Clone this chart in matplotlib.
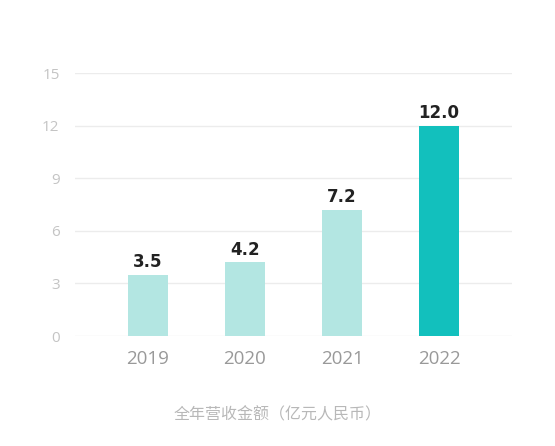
import matplotlib.pyplot as plt

plt.rcParams['font.family'] = ['Noto Sans CJK SC', 'DejaVu Sans']

years = ['2019', '2020', '2021', '2022']
revenue = [3.5, 4.2, 7.2, 12.0]
labels = ['3.5', '4.2', '7.2', '12.0']
yticks = [0, 3, 6, 9, 12, 15]

light = '#b3e6e2'
dark = '#12c0bd'
colors = [light, light, light, dark]

fig = plt.figure(figsize=(5.55, 4.46), dpi=100)
ax = fig.add_axes([0.135, 0.2466, 0.7875, 0.5897])

x = range(len(years))
ax.bar(x, revenue, width=0.41, color=colors, zorder=3)

# valeurs au-dessus des barres
for i, v in enumerate(revenue):
    ax.text(i, v + 0.2, labels[i], ha='center', va='bottom',
            fontsize=12, fontweight='bold', color='#222222', family='DejaVu Sans')

ax.set_xlim(-0.75, 3.75)
ax.set_ylim(0, 15)
ax.set_yticks(yticks)
ax.set_xticks(list(x))
ax.set_xticklabels(years, family='Open Sans')
ax.set_yticklabels([str(t) for t in yticks], family='Open Sans')
ax.tick_params(axis='x', length=0, pad=10, labelsize=13.5, labelcolor='#999999')
ax.tick_params(axis='y', length=0, pad=11, labelsize=11, labelcolor='#c4c4c4')
ax.grid(axis='y', color='#ececec', linewidth=1, zorder=0)
for s in ax.spines.values():
    s.set_visible(False)

fig.text(0.5, 1 - 415 / 446, '全年营收金额（亿元人民币）', ha='center', va='center',
         fontsize=11.5, color='#b8b8b8')

fig.savefig('out.png', dpi=100)
